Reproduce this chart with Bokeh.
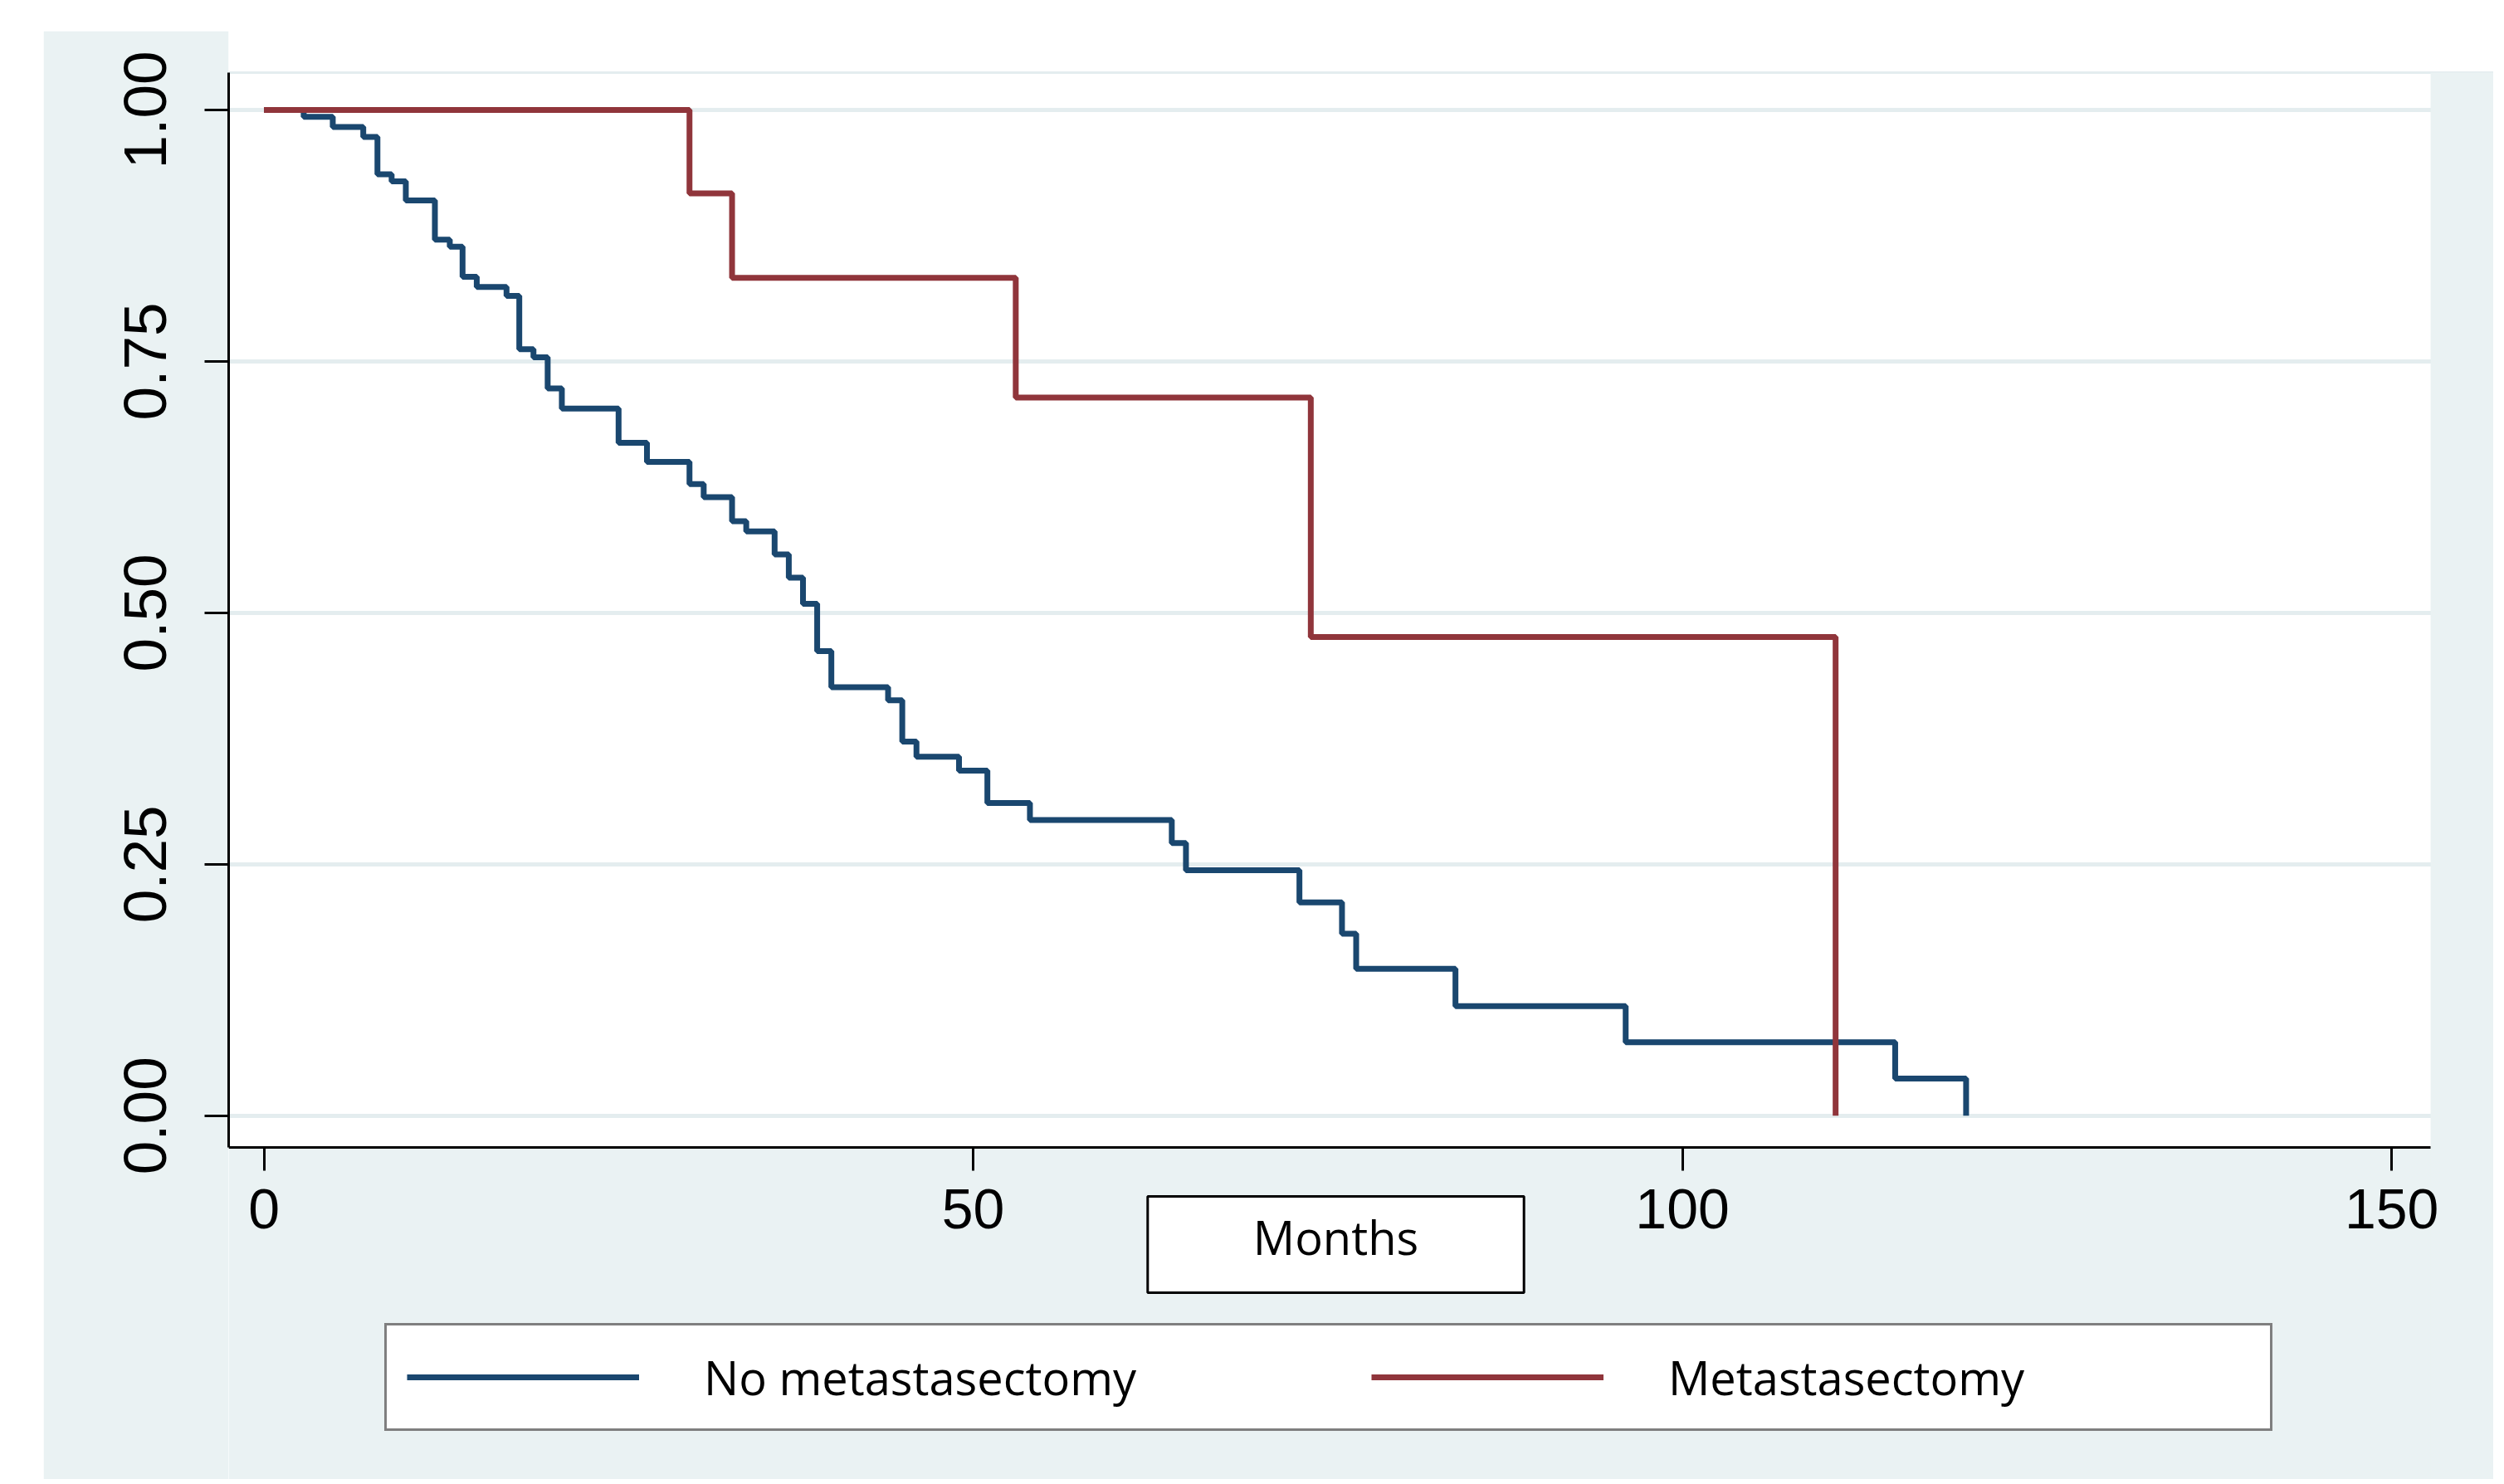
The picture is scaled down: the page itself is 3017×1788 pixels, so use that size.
from bokeh.plotting import figure
from bokeh.models import (Range1d, FixedTicker, Legend, LegendItem, Span,
                          Label, BoxAnnotation)
from bokeh.embed import file_html
from bokeh.resources import INLINE

# ---------------- data ----------------
months_no = [0, 2.8, 4.85, 7.0, 8.0, 9.0, 10.0, 12.05, 13.1, 14.0, 15.0, 17.1,
             18.0, 19.0, 20.0, 21.0, 25.0, 27.0, 30.0, 31.0, 33.0, 34.0, 36.0,
             37.0, 38.0, 39.0, 40.0, 44.0, 45.0, 46.0, 49.0, 51.0, 54.0, 64.0,
             65.0, 73.0, 76.0, 77.0, 84.0, 96.0, 115.0, 120.0]
surv_no = [1.0, 0.993, 0.983, 0.973, 0.936, 0.929, 0.910, 0.871, 0.864, 0.834,
           0.824, 0.815, 0.762, 0.754, 0.723, 0.703, 0.669, 0.650, 0.628, 0.615,
           0.591, 0.581, 0.558, 0.535, 0.509, 0.462, 0.426, 0.413, 0.372, 0.357,
           0.343, 0.311, 0.294, 0.271, 0.244, 0.212, 0.181, 0.146, 0.109, 0.073,
           0.037, 0.0]
months_met = [0, 30.0, 33.0, 53.0, 73.8, 110.8]
surv_met = [1.0, 0.917, 0.833, 0.714, 0.476, 0.0]

series_names = ["No metastasectomy", "Metastasectomy"]
x_ticks = [0, 50, 100, 150]
y_ticks = [0.0, 0.25, 0.5, 0.75, 1.0]
y_tick_labels = ["0.00", "0.25", "0.50", "0.75", "1.00"]
x_title = "Months"

# ---------------- style ----------------
BG = "#EAF2F3"
GRID = "#E4EDEF"
BLUE = "#1A476F"
RED = "#90353B"

# the frame spans the whole picture right of the y axis; the plot region
# proper ends at PLOT_RIGHT / PLOT_TOP, the x axis sits at AXIS_Y
X_MIN, PLOT_RIGHT, X_MAX = -2.49, 152.75, 157.19
Y_BOTTOM, AXIS_Y, PLOT_TOP, Y_TOP = -0.3616, -0.0315, 1.037, 1.0783

p = figure(width=2952, height=1745, output_backend="svg", toolbar_location=None,
           x_range=Range1d(X_MIN, X_MAX), y_range=Range1d(Y_BOTTOM, Y_TOP),
           min_border_left=223, min_border_right=0, min_border_top=0,
           min_border_bottom=0, border_fill_color=BG,
           background_fill_color="white")
p.margin = (37, 0, 0, 52)
p.outline_line_color = None

p.xgrid.visible = False
p.ygrid.ticker = FixedTicker(ticks=y_ticks)
p.ygrid.grid_line_color = GRID
p.ygrid.grid_line_width = 5

# faint top edge of the plot region
p.add_layout(Span(location=PLOT_TOP, dimension="width", line_color=GRID,
                  line_width=3, level="underlay"))
# graph-region colour below the x axis and right of the plot region
p.add_layout(BoxAnnotation(top=AXIS_Y, fill_color=BG, fill_alpha=1.0,
                           line_color=None, level="underlay"))
p.add_layout(BoxAnnotation(left=PLOT_RIGHT, top=PLOT_TOP, fill_color=BG,
                           fill_alpha=1.0, line_color=None, level="underlay"))

for ax in (p.xaxis[0], p.yaxis[0]):
    ax.axis_line_color = "black"
    ax.axis_line_width = 3
    ax.major_tick_line_color = "black"
    ax.major_tick_line_width = 3
    ax.major_tick_in = 0
    ax.minor_tick_in = 0
    ax.minor_tick_out = 0
    ax.major_label_text_font = "Liberation Sans"
    ax.major_label_text_color = "black"

xa = p.xaxis[0]
xa.fixed_location = AXIS_Y
xa.bounds = (X_MIN, PLOT_RIGHT)
xa.ticker = FixedTicker(ticks=x_ticks)
xa.major_tick_out = 28
xa.major_label_text_font_size = "68px"
xa.major_label_standoff = 23

ya = p.yaxis[0]
ya.ticker = FixedTicker(ticks=y_ticks)
ya.bounds = (AXIS_Y, PLOT_TOP)
ya.major_label_overrides = {t: s for t, s in zip(y_ticks, y_tick_labels)}
ya.major_tick_out = 29
ya.major_label_text_font_size = "73px"
ya.major_label_orientation = "parallel"
ya.major_label_standoff = 46

r_no = p.step(months_no, surv_no, mode="after", line_color=BLUE, line_width=7)
r_met = p.step(months_met, surv_met, mode="after", line_color=RED, line_width=7)

# boxed axis title (padding given as left, right, top, bottom)
p.add_layout(Label(x=1334, y=283, x_units="screen", y_units="screen",
                   text=x_title, text_align="center", text_baseline="middle",
                   text_font="Open Sans", text_font_size="56px",
                   text_color="black", border_line_color="black",
                   border_line_width=3, background_fill_color="white",
                   background_fill_alpha=1.0, padding=(127, 127, 10, 30)))

legend = Legend(items=[LegendItem(label=series_names[0], renderers=[r_no]),
                       LegendItem(label=series_names[1], renderers=[r_met])],
                location=(188, 58), orientation="horizontal", padding=24,
                spacing=103, glyph_width=280, glyph_height=54,
                label_standoff=78, label_width=701, margin=0,
                label_text_font="Open Sans", label_text_font_size="56px",
                label_text_color="black", border_line_color="black",
                border_line_width=3, background_fill_color="white",
                background_fill_alpha=1.0)
p.add_layout(legend)

open("out.html", "w").write(file_html(p, INLINE))
